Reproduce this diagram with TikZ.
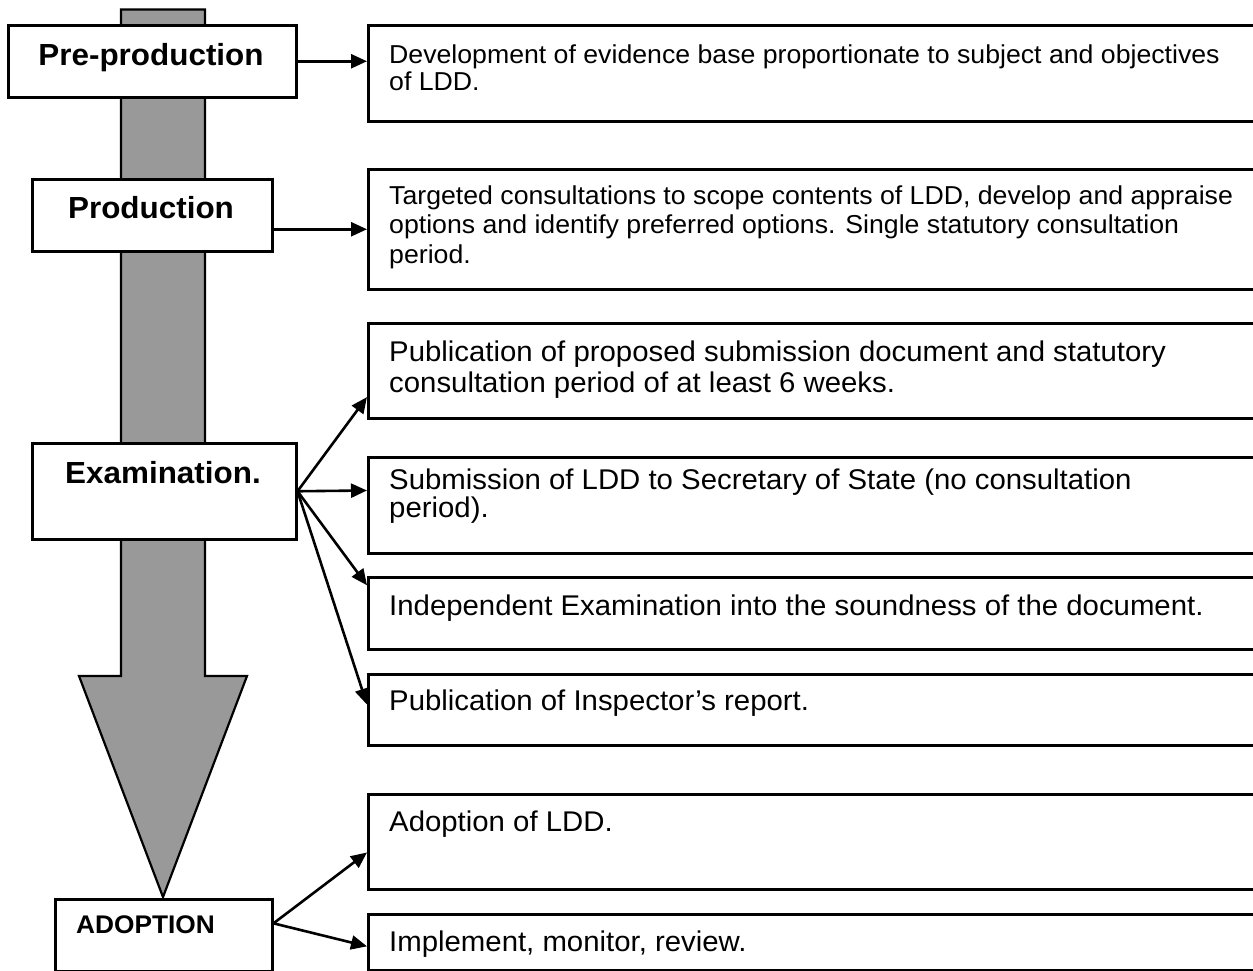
\documentclass[tikz,border=0pt]{standalone}
\usepackage{fontspec}
\setmainfont[FakeStretch=1.03]{Liberation Sans}
\usetikzlibrary{arrows.meta,calc}
\definecolor{barGray}{RGB}{153,153,153}
\newcommand\boxlines[1]{\vtop{\halign{##\hfil\cr#1\crcr}}}
\begin{document}
\begin{tikzpicture}[x=1pt,y=-1pt,
  stage/.style={draw=black, line width=2.5pt, fill=white, inner sep=0pt, anchor=north west},
  bar/.style={fill=barGray, draw=black, line width=2.2pt, line join=miter},
  arr/.style={line width=2.6pt, -{Triangle[length=16pt,width=14pt]}},
  lbl/.style={font=\fontsize{30.5}{31}\selectfont\bfseries, anchor=base, inner sep=0pt},
  smalltxt/.style={font=\fontsize{25.9}{27}\selectfont, anchor=base west, inner sep=0pt},
  bigtxt/.style={font=\fontsize{28.5}{28.5}\selectfont, anchor=base west, inner sep=0pt},
]
\useasboundingbox (0,0) rectangle (1253,970);
\clip (0,0) rectangle (1253,970);
\fill[white] (0,0) rectangle (1253,970);

% big downward arrow (timeline)
\draw[bar] (121,9.5) -- (205,9.5) -- (205,676) -- (247,676) -- (163,897) -- (79,676) -- (121,676) -- cycle;

% stage boxes
\node[stage, minimum width=288pt, minimum height=72pt] (pre)  at (7,24) {};
\node[stage, minimum width=240pt, minimum height=72pt] (prod) at (31,178) {};
\node[stage, minimum width=264pt, minimum height=96pt] (exam) at (31,442) {};
\node[stage, minimum width=217pt, minimum height=72pt] (adop) at (54,898) {};

\node[lbl] (tpre)  at (151,65)  {Pre-production};
\node[lbl] (tprod) at (151,218) {Production};
\node[lbl] (texam) at (163,483) {Examination.};
\node[lbl, font=\fontsize{25.5}{26}\selectfont\bfseries, anchor=base west] (tadop) at (76,933) {ADOPTION};

% description boxes
\node[stage, minimum width=900pt, minimum height=96pt]  (b1) at (367,24) {};
\node[stage, minimum width=900pt, minimum height=120pt] (b2) at (367,168) {};
\node[stage, minimum width=900pt, minimum height=95pt]  (b3) at (367,322) {};
\node[stage, minimum width=900pt, minimum height=96pt]  (b4) at (367,456) {};
\node[stage, minimum width=900pt, minimum height=72pt]  (b5) at (367,576) {};
\node[stage, minimum width=900pt, minimum height=71pt]  (b6) at (367,673) {};
\node[stage, minimum width=900pt, minimum height=95pt]  (b7) at (367,793) {};
\node[stage, minimum width=900pt, minimum height=56pt]  (b8) at (367,913) {};

\node[smalltxt] (t1) at (389,63) {\boxlines{Development of evidence base proportionate to subject and objectives\cr of LDD.}};
\node[smalltxt, font=\fontsize{25.9}{29.5}\selectfont] (t2) at (389,204) {\boxlines{Targeted consultations to scope contents of LDD, develop and appraise\cr options and identify preferred options. Single statutory consultation\cr period.}};
\node[bigtxt, font=\fontsize{28.5}{31}\selectfont] (t3) at (389,361) {\boxlines{Publication of proposed submission document and statutory\cr consultation period of at least 6 weeks.}};
\node[bigtxt, font=\fontsize{28.5}{28.5}\selectfont] (t4) at (389,489) {\boxlines{Submission of LDD to Secretary of State (no consultation\cr period).}};
\node[bigtxt] (t5) at (389,615) {Independent Examination into the soundness of the document.};
\node[bigtxt] (t6) at (389,710) {Publication of Inspector’s report.};
\node[bigtxt] (t7) at (389,831) {Adoption of LDD.};
\node[bigtxt] (t8) at (389,951) {Implement, monitor, review.};

% connectors
\draw[arr] (pre.east) -- (pre.east -| b1.west);
\draw[arr] (prod.east |- b2.west) -- (b2.west);
\draw[arr] (exam.east) -- ($(b3.north west)!0.77!(b3.south west)$);
\draw[arr] (exam.east) -- ($(b4.north west)!0.35!(b4.south west)$);
\draw[arr] (exam.east) -- ($(b5.north west)!0.125!(b5.south west)$);
\draw[arr] (exam.east) -- ($(b6.north west)!0.43!(b6.south west)$);
\draw[arr] ($(adop.north east)!0.34!(adop.south east)$) -- ($(b7.north west)!0.61!(b7.south west)$);
\draw[arr] ($(adop.north east)!0.34!(adop.south east)$) -- ($(b8.north west)!0.57!(b8.south west)$);
\end{tikzpicture}
\end{document}
